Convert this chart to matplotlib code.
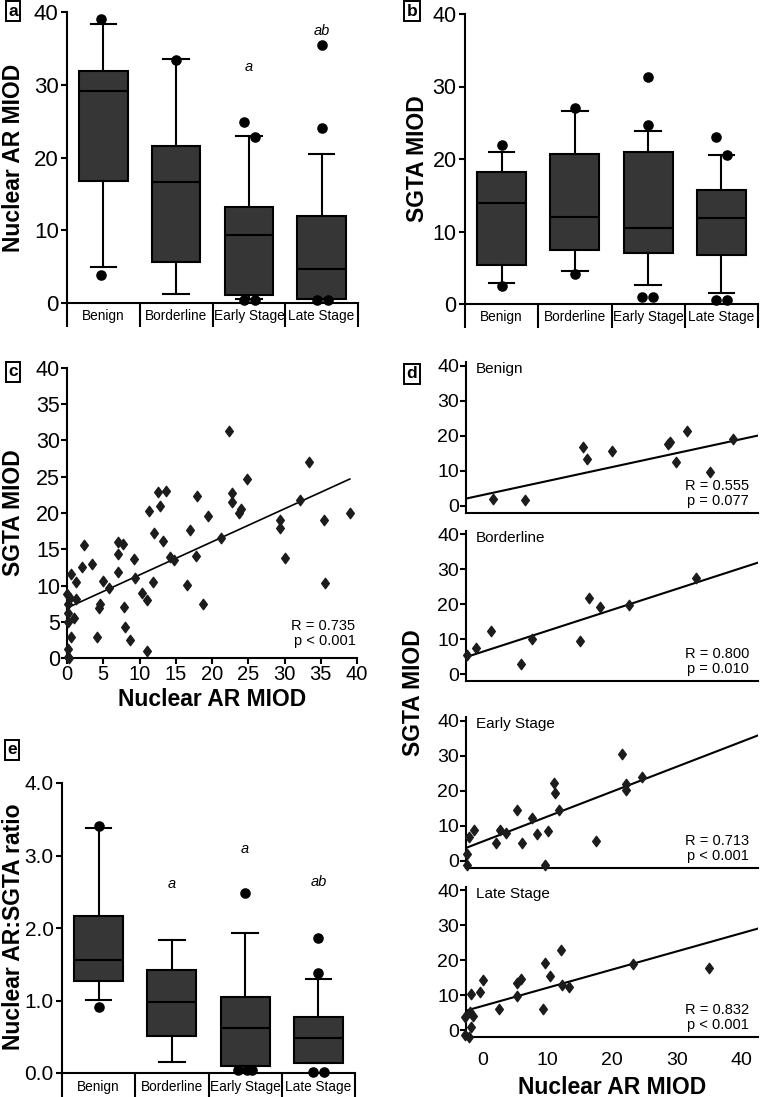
import numpy as np
import matplotlib
matplotlib.use("Agg")
import matplotlib.pyplot as plt
from matplotlib.path import Path

plt.rcParams['font.family'] = ['Liberation Sans', 'DejaVu Sans']

W, H = 761, 1097

categories = ["Benign", "Borderline", "Early Stage", "Late Stage"]

# ---------- Panel a: Nuclear AR MIOD ----------
ar_q1 = [16.8, 5.6, 1.1, 0.5]
ar_med = [29.1, 16.6, 9.3, 4.7]
ar_q3 = [31.9, 21.6, 13.2, 12.0]
ar_lo = [4.9, 1.3, 0.5, 0.5]
ar_hi = [38.3, 33.5, 22.9, 20.5]
ar_out = [[39.1, 3.9], [33.4], [24.9, 22.8, 0.35, 0.35], [35.5, 24.1, 0.35, 0.35]]
ar_sig = ["", "", "a", "ab"]
ar_sig_y = [0, 0, 32.4, 37.4]

# ---------- Panel b: SGTA MIOD ----------
sgta_q1 = [5.4, 7.4, 7.1, 6.8]
sgta_med = [14.0, 12.0, 10.5, 11.8]
sgta_q3 = [18.2, 20.7, 21.0, 15.7]
sgta_lo = [2.9, 4.5, 2.6, 1.5]
sgta_hi = [20.9, 26.6, 23.9, 20.5]
sgta_out = [[22.0, 2.5], [27.1, 4.1], [31.3, 24.7, 1.0, 1.0], [23.0, 20.6, 0.55, 0.55]]

# ---------- Panel e: Nuclear AR:SGTA ratio ----------
ratio_q1 = [1.27, 0.515, 0.10, 0.138]
ratio_med = [1.563, 0.975, 0.625, 0.483]
ratio_q3 = [2.165, 1.425, 1.044, 0.768]
ratio_lo = [1.007, 0.147, 0.10, 0.138]
ratio_hi = [3.375, 1.834, 1.936, 1.297]
ratio_out = [[3.41, 0.915], [], [2.48, 0.04, 0.04, 0.04], [1.857, 1.375, 0.02, 0.02]]
ratio_sig = ["", "a", "a", "ab"]
ratio_sig_y = [0, 2.61, 3.09, 2.64]

# horizontal jitter of overlapping outlier dots (style only)
ar_dx = [[-0.03, -0.03], [0.0], [-0.07, 0.08, -0.07, 0.09], [0.0, 0.0, -0.07, 0.09]]
sgta_dx = [[0.0, 0.0], [0.0, 0.0], [0.0, 0.0, -0.08, 0.07], [-0.08, 0.08, -0.08, 0.08]]
ratio_dx = [[0.0, 0.0], [], [0.0, -0.1, 0.02, 0.1], [0.0, 0.0, -0.08, 0.07]]

# ---------- Panel c: all cases ----------
c_ar = [22.3, 33.4, 24.8, 12.6, 13.7, 12.8, 17.9, 22.8, 22.8, 11.3, 19.4, 23.7, 24.0,
        32.2, 39.0, 29.4, 29.4, 35.4, 30.0, 35.6, 21.2, 17.0, 11.95, 13.2, 17.8, 14.2,
        14.8, 16.6, 18.8, 11.9, 10.4, 11.0, 11.0, 9.4, 9.3, 7.1, 7.7, 7.1, 7.1, 7.9,
        8.0, 8.7, 5.8, 4.9, 4.5, 4.4, 4.1, 3.4, 2.3, 2.1, 1.3, 0.55, 1.3, 1.0, 0.4,
        0.2, 0.1, 0.2, 0.55, 0.1, 0.2, 0.3, 0.0]
c_sgta = [31.3, 27.05, 24.7, 22.9, 23.0, 20.9, 22.3, 22.7, 21.5, 20.3, 19.65, 20.0, 20.6,
          21.8, 20.0, 19.0, 18.0, 19.0, 13.8, 10.4, 16.5, 17.7, 17.2, 16.1, 14.1, 14.0,
          13.5, 10.1, 7.5, 10.5, 9.0, 8.0, 0.9, 11.1, 13.7, 16.0, 15.7, 14.3, 11.8, 7.1,
          4.3, 2.5, 9.7, 10.6, 7.5, 6.9, 2.9, 12.9, 15.6, 12.5, 10.5, 11.6, 8.1, 5.5, 8.3,
          7.4, 6.2, 5.0, 2.9, 1.2, 0.2, 0.0, 8.8]
c_fit = (6.9, 0.456)          # intercept, slope
c_stats = "R = 0.735\np < 0.001"

# ---------- Panel d: by group ----------
d_benign_ar = [1.7, 6.6, 15.5, 16.1, 20.0, 28.7, 29.0, 29.8, 31.5, 35.1, 38.6]
d_benign_sgta = [1.9, 1.8, 16.7, 13.3, 15.6, 17.6, 18.2, 12.4, 21.4, 9.6, 19.0]
d_border_ar = [-2.4, -1.0, 1.3, 6.0, 7.6, 15.0, 16.4, 18.2, 22.6, 32.9]
d_border_sgta = [5.4, 7.4, 12.3, 2.9, 9.9, 9.6, 21.9, 19.2, 19.9, 27.5]
d_early_ar = [-2.3, -2.3, -2.0, -1.3, 2.2, 2.8, 3.7, 5.4, 6.1, 7.7, 8.5, 9.6, 10.1,
              11.0, 11.2, 11.8, 17.6, 21.5, 22.1, 22.1, 24.7]
d_early_sgta = [2.1, -1.2, 6.7, 8.8, 5.0, 8.8, 7.9, 14.4, 5.2, 12.1, 7.6, -1.2, 8.6,
                22.3, 19.4, 14.4, 5.7, 30.6, 22.0, 20.1, 23.9]
d_late_ar = [12.2, 9.6, 23.3, 35.0, 10.5, 5.9, 5.4, 0.05, -0.3, -1.8, 12.3, 13.3, 5.4,
             2.6, 9.3, -2.6, -1.4, -1.8, -2.7, -2.0, -1.9]
d_late_sgta = [22.9, 19.2, 18.9, 17.7, 15.6, 14.6, 13.4, 14.3, 10.9, 10.2, 12.9, 12.2,
               9.8, 5.9, 6.1, 3.7, 3.9, 0.8, -1.4, -2.1, 5.1]
d_titles = ["Benign", "Borderline", "Early Stage", "Late Stage"]
d_fits = [(3.1, 0.399), (6.35, 0.602), (5.5, 0.712), (6.86, 0.523)]
d_stats = ["R = 0.555\np = 0.077", "R = 0.800\np = 0.010",
           "R = 0.713\np < 0.001", "R = 0.832\np < 0.001"]

BOX_FC = '#363636'
LW = 1.5
DIAMOND = Path([(0, 1), (0.74, 0), (0, -1), (-0.74, 0), (0, 1)],
               [Path.MOVETO, Path.LINETO, Path.LINETO, Path.LINETO, Path.CLOSEPOLY])

fig = plt.figure(figsize=(W / 100, H / 100), dpi=100)


def add_ax(l, t, r, b):
    return fig.add_axes([l / W, 1 - b / H, (r - l) / W, (b - t) / H])


def style_spines(ax):
    for s in ['top', 'right']:
        ax.spines[s].set_visible(False)
    for s in ['left', 'bottom']:
        ax.spines[s].set_linewidth(LW)


def box_panel(ax, q1, med, q3, lo, hi, outs, dxs, sig, sig_y, ylim, yticks, ylabels,
              label_pad, tick_fs):
    stats = [dict(med=m, q1=a, q3=b, whislo=l, whishi=h, fliers=[])
             for a, m, b, l, h in zip(q1, med, q3, lo, hi)]
    pos = np.arange(1, len(stats) + 1)
    ax.bxp(stats, positions=pos, widths=0.67, capwidths=0.35, patch_artist=True,
           showfliers=False, manage_ticks=False,
           boxprops=dict(facecolor=BOX_FC, edgecolor='black', linewidth=LW),
           medianprops=dict(color='black', linewidth=LW),
           whiskerprops=dict(color='black', linewidth=LW),
           capprops=dict(color='black', linewidth=LW))
    for p, vals, dx in zip(pos, outs, dxs):
        if vals:
            ax.plot(p + np.array(dx), vals, 'o', color='black', ms=6.6, clip_on=False, zorder=5)
    for p, s, y in zip(pos, sig, sig_y):
        if s:
            ax.text(p, y, s, ha='center', va='center', fontsize=10.5, style='italic')
    ax.set_xlim(0.5, 4.5)
    ax.set_ylim(*ylim)
    ax.set_yticks(yticks, ylabels)
    ax.set_xticks(pos, categories)
    ax.set_xticks(np.arange(0.5, 4.6, 1.0), minor=True)
    ax.tick_params(axis='x', which='major', length=0, pad=label_pad, labelsize=9.8)
    ax.tick_params(axis='x', which='minor', length=17, width=LW, direction='out')
    ax.tick_params(axis='y', which='major', length=4, width=LW, direction='out',
                   labelsize=tick_fs, pad=2)
    style_spines(ax)


def panel_letter(x, y, s):
    fig.text(x / W, 1 - y / H, s, ha='center', va='center', fontsize=12.5,
             fontweight='bold',
             bbox=dict(boxstyle='square,pad=0.14', fc='white', ec='black', lw=1.4))


def ylab(x, y, s):
    fig.text(x / W, 1 - y / H, s, ha='center', va='center', rotation=90,
             fontsize=16.5, fontweight='bold')


# ---- a ----
ax_a = add_ax(67, 12, 358, 303)
box_panel(ax_a, ar_q1, ar_med, ar_q3, ar_lo, ar_hi, ar_out, ar_dx, ar_sig, ar_sig_y,
          (0, 40), [0, 10, 20, 30, 40], ["0", "10", "20", "30", "40"], 4, 16)
ylab(14, 158, "Nuclear AR MIOD")
panel_letter(13, 11, "a")

# ---- b ----
ax_b = add_ax(465, 14, 758, 304)
box_panel(ax_b, sgta_q1, sgta_med, sgta_q3, sgta_lo, sgta_hi, sgta_out, sgta_dx,
          ["", "", "", ""], [0, 0, 0, 0],
          (0, 40), [0, 10, 20, 30, 40], ["0", "10", "20", "30", "40"], 4, 15.5)
ylab(418, 159, "SGTA MIOD")
panel_letter(412, 11, "b")

# ---- c ----
ax_c = add_ax(67, 368, 357, 658)
ax_c.plot(c_ar, c_sgta, marker=DIAMOND, ls='none', color='#1c1c1c', ms=7.5,
          clip_on=False, zorder=4)
xs = np.array([0, 39])
ax_c.plot(xs, c_fit[0] + c_fit[1] * xs, color='black', lw=1.2)
ax_c.set_xlim(0, 40)
ax_c.set_ylim(0, 40)
ax_c.set_xticks(np.arange(0, 41, 5))
ax_c.set_yticks(np.arange(0, 41, 5))
ax_c.tick_params(axis='x', length=4, width=LW, direction='out', labelsize=14.5, pad=1)
ax_c.tick_params(axis='y', length=4, width=LW, direction='out', labelsize=15.5, pad=1)
style_spines(ax_c)
ax_c.text(0.995, 0.035, c_stats, transform=ax_c.transAxes, ha='right', va='bottom',
          fontsize=10.5, linespacing=1.05)
fig.text(212 / W, 1 - 700 / H, "Nuclear AR MIOD", ha='center', va='center',
         fontsize=16.5, fontweight='bold')
ylab(14, 513, "SGTA MIOD")
panel_letter(13, 372, "c")

# ---- d ----
d_boxes = [(362, 513), (531, 681), (717, 868), (887, 1037)]
d_x = [d_benign_ar, d_border_ar, d_early_ar, d_late_ar]
d_y = [d_benign_sgta, d_border_sgta, d_early_sgta, d_late_sgta]
for i, (t, b) in enumerate(d_boxes):
    ax = add_ax(466, t, 758, b)
    ax.plot(d_x[i], d_y[i], marker=DIAMOND, ls='none', color='#1c1c1c', ms=7.5,
            clip_on=False, zorder=4)
    ax.set_xlim(-2.5, 42.5)
    ax.set_ylim(-2, 41)
    xx = np.array(ax.get_xlim())
    ax.plot(xx, d_fits[i][0] + d_fits[i][1] * xx, color='black', lw=1.5)
    ax.set_xlim(-2.5, 42.5)
    ax.set_yticks([0, 10, 20, 30, 40])
    ax.tick_params(axis='y', length=4, width=LW, direction='out', labelsize=14, pad=1)
    if i == 3:
        ax.set_xticks([0, 10, 20, 30, 40])
        ax.tick_params(axis='x', length=0, labelsize=14, pad=11)
    else:
        ax.set_xticks([])
    style_spines(ax)
    ax.text(0.034, 0.955, d_titles[i], transform=ax.transAxes, ha='left', va='center',
            fontsize=11)
    ax.text(0.97, 0.035, d_stats[i], transform=ax.transAxes, ha='right', va='bottom',
            fontsize=10.5, linespacing=1.05)
fig.text(612 / W, 1 - 1087 / H, "Nuclear AR MIOD", ha='center', va='center',
         fontsize=16.5, fontweight='bold')
ylab(413, 693, "SGTA MIOD")
panel_letter(412, 374, "d")

# ---- e ----
ax_e = add_ax(62, 783, 355, 1073)
box_panel(ax_e, ratio_q1, ratio_med, ratio_q3, ratio_lo, ratio_hi, ratio_out, ratio_dx,
          ratio_sig, ratio_sig_y,
          (0, 4), [0, 1, 2, 3, 4], ["0.0", "1.0", "2.0", "3.0", "4.0"], 5, 15)
ylab(14, 927, "Nuclear AR:SGTA ratio")
panel_letter(12, 750, "e")

fig.savefig("out.png", dpi=100)
